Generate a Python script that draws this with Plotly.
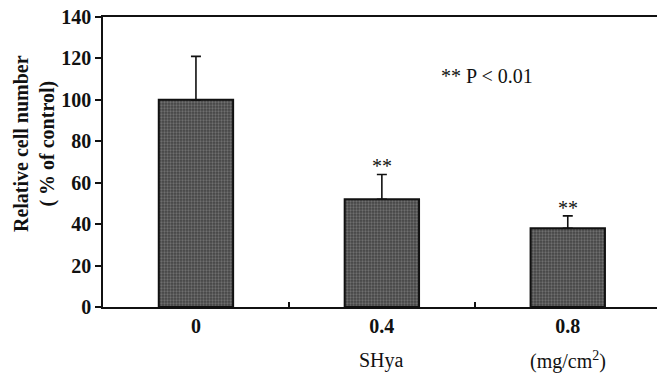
import plotly.graph_objects as go

# Cell number relative to control for each SHya dose
dose_labels = ["0", "0.4", "0.8"]
cell_pct = [100, 52, 38]
cell_err = [21, 12, 6]
signif = ["", "**", "**"]

FONT = "Liberation Serif, Times New Roman, serif"
INK = "#111111"
positions = list(range(len(dose_labels)))

fig = go.Figure()
fig.add_trace(go.Bar(
    x=positions,
    y=cell_pct,
    width=0.4,
    marker=dict(
        color="#4a4a4a",
        line=dict(color=INK, width=2),
        pattern=dict(shape=".", fgcolor="#9a9a9a", bgcolor="#444444",
                     size=3, solidity=0.45),
    ),
    error_y=dict(type="data", symmetric=False, array=cell_err,
                 arrayminus=[0] * len(cell_err),
                 color=INK, thickness=1.6, width=5),
    showlegend=False,
))

# significance marks above the error bars
for xi, m, e, s in zip(positions, cell_pct, cell_err, signif):
    if s:
        fig.add_annotation(x=xi, y=m + e, text=s, showarrow=False,
                           yanchor="bottom", yshift=-5,
                           font=dict(family=FONT, size=20, color=INK))

fig.add_annotation(x=0.78, y=0.84, xref="paper", yref="paper",
                   text="** P < 0.01", showarrow=False,
                   font=dict(family=FONT, size=20, color=INK))

fig.add_annotation(x=1, y=-0.183, xref="x", yref="paper",
                   text="SHya", showarrow=False, yanchor="middle",
                   font=dict(family=FONT, size=20, color=INK))
fig.add_annotation(x=2, y=-0.183, xref="x", yref="paper",
                   text="(mg/cm<sup>2</sup>)", showarrow=False, yanchor="middle",
                   font=dict(family=FONT, size=20, color=INK))

fig.add_annotation(x=-0.1245, y=0.562, xref="paper", yref="paper",
                   text="<b>Relative cell number<br>( % of control)</b>",
                   textangle=-90, showarrow=False,
                   xanchor="center", yanchor="middle",
                   font=dict(family=FONT, size=20, color=INK))

fig.update_layout(
    width=657, height=376,
    margin=dict(l=103, r=0, t=17, b=69),
    paper_bgcolor="white", plot_bgcolor="white",
    font=dict(family=FONT, size=20, color=INK),
)
fig.update_xaxes(
    range=[-0.5, 2.48],
    tickvals=positions,
    ticktext=[f"<b>{t}</b>" for t in dose_labels],
    ticks="",
    showline=True, linecolor=INK, linewidth=1.5,
    mirror=True,
    showgrid=False, zeroline=False,
    minor=dict(tickvals=[0.5, 1.5], ticks="inside", ticklen=5,
               tickcolor=INK, tickwidth=1.5),
)
y_ticks = [0, 20, 40, 60, 80, 100, 120, 140]
fig.update_yaxes(
    range=[0, 140],
    tickvals=y_ticks,
    ticktext=[f"<b>{v}</b>" for v in y_ticks],
    ticks="outside", ticklen=6, tickwidth=1.5, tickcolor=INK,
    showline=True, linecolor=INK, linewidth=1.5,
    showgrid=False, zeroline=False,
)

fig.write_html("out.html")
